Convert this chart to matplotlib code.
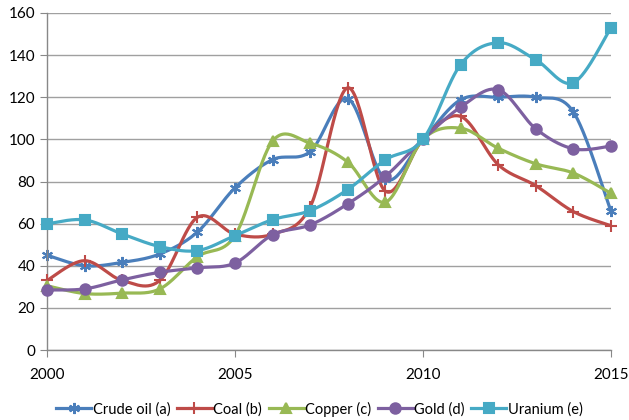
import numpy as np
import matplotlib
matplotlib.use("Agg")
import matplotlib.pyplot as plt

plt.rcParams['font.family'] = ['Lato', 'DejaVu Sans']

years = list(range(2000, 2016))

crude_oil = [45, 40, 41.6, 45.6, 56, 77, 90.4, 94.2, 119.3, 81, 100, 118.8, 120, 120, 113, 65.9]
coal = [33, 42.4, 33, 33, 63, 55, 55, 68, 124.5, 75.4, 100, 110.9, 88, 78, 65.7, 59]
copper = [30.5, 26.8, 27, 29, 44.3, 54.3, 99.2, 98.2, 89.2, 70.2, 100, 105.3, 95.8, 88.4, 84, 74.4]
gold = [28.5, 29, 33.3, 36.9, 39, 41.3, 54.7, 59.4, 69.4, 82.4, 100, 115.3, 123.6, 105, 95.5, 96.8]
uranium = [59.9, 61.8, 55.1, 49.1, 47.2, 54.3, 61.9, 66.2, 76.2, 90.3, 100, 135.5, 145.9, 137.8, 126.9, 153]

names = ['Crude oil (a)', 'Coal (b)', 'Copper (c)', 'Gold (d)', 'Uranium (e)']
colors = ['#4A7EBB', '#BE4B48', '#98B954', '#7D60A0', '#46AAC5']
markers = [(6, 2, 0), '+', '^', 'o', 's']
msizes = [8, 9, 7, 7.5, 7]


def smooth(xs, ys, n=30):
    # bezier smoothing like excel's "smoothed line"
    px = np.array(xs, dtype=float)
    py = np.array(ys, dtype=float)
    px = np.concatenate([[px[0]], px, [px[-1]]])
    py = np.concatenate([[py[0]], py, [py[-1]]])
    outx, outy = [], []
    t = np.linspace(0, 1, n)
    for i in range(1, len(px) - 2):
        p0x, p0y = px[i], py[i]
        p3x, p3y = px[i + 1], py[i + 1]
        c1x = p0x + (px[i + 1] - px[i - 1]) / 6
        c1y = p0y + (py[i + 1] - py[i - 1]) / 6
        c2x = p3x - (px[i + 2] - px[i]) / 6
        c2y = p3y - (py[i + 2] - py[i]) / 6
        bx = (1-t)**3*p0x + 3*(1-t)**2*t*c1x + 3*(1-t)*t**2*c2x + t**3*p3x
        by = (1-t)**3*p0y + 3*(1-t)**2*t*c1y + 3*(1-t)*t**2*c2y + t**3*p3y
        outx.extend(bx)
        outy.extend(by)
    return outx, outy


fig = plt.figure(figsize=(6.29, 4.2), dpi=100)
ax = fig.add_axes([47/629, 1-350/420, 564/629, 337/420])

series = [crude_oil, coal, copper, gold, uranium]
handles = []
for k in range(len(series)):
    sx, sy = smooth(years, series[k])
    ax.plot(sx, sy, color=colors[k], lw=2.3, zorder=2+k, solid_capstyle='round')
    ax.plot(years, series[k], ls='none', marker=markers[k], ms=msizes[k],
            color=colors[k], mec=colors[k], mew=1.5, zorder=2+k, clip_on=False)
    h, = ax.plot([], [], color=colors[k], lw=2.3, marker=markers[k], ms=msizes[k],
                 mec=colors[k], mew=1.5)
    handles.append(h)

ax.set_xlim(2000, 2015)
ax.set_ylim(0, 160)
ax.set_xticks([2000, 2005, 2010, 2015])
ax.set_yticks(range(0, 161, 20))
ax.yaxis.grid(True, color='#A0A0A0', lw=1)
ax.set_axisbelow(True)
for s in ['top', 'right']:
    ax.spines[s].set_visible(False)
for s in ['left', 'bottom']:
    ax.spines[s].set_color('#888888')
    ax.spines[s].set_linewidth(1)
ax.tick_params(axis='both', colors='#888888', labelcolor='black', labelsize=11, length=5)
ax.tick_params(axis='x', pad=8)

fig.legend(handles, names, loc='center', bbox_to_anchor=(0.508, 1-409/420), ncol=5,
           frameon=False, fontsize=10.5, handlelength=2.4, columnspacing=0.45,
           handletextpad=0.1)

plt.savefig('out.png', dpi=100)
